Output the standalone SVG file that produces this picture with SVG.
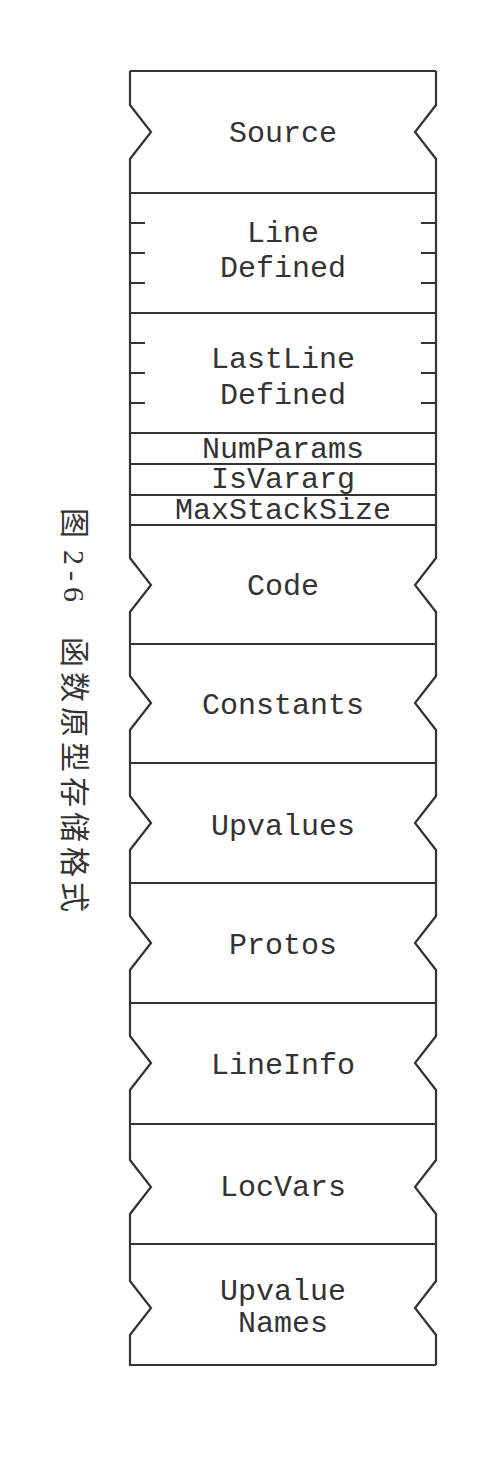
<svg xmlns="http://www.w3.org/2000/svg" width="504" height="1464" viewBox="0 0 504 1464">
<style>
.o{fill:none;stroke:#333;stroke-width:2.2;stroke-linejoin:miter}
.t{font-family:"Liberation Mono","Courier New",monospace;font-size:30px;fill:#333;text-anchor:middle}
.cap{font-family:"Liberation Serif","Noto Sans CJK SC",serif;font-size:30px;fill:#333}
</style>
<rect width="504" height="1464" fill="#fff"/>
<g id="source">
<path class="o" d="M130,71 H436 M130,71 V105 L151,132 L130,159 V193 M436,71 V105 L415,132 L436,159 V193"/>
<text class="t" x="283" y="142">Source</text>
</g>
<g id="line-defined">
<path class="o" d="M130,193 H436 M130,193 V313 M436,193 V313 M130,223 H145 M130,253 H145 M130,283 H145 M436,223 H421 M436,253 H421 M436,283 H421"/>
<text class="t" x="283" y="242">Line</text>
<text class="t" x="283" y="277">Defined</text>
</g>
<g id="lastline-defined">
<path class="o" d="M130,313 H436 M130,313 V433 M436,313 V433 M130,343 H145 M130,373 H145 M130,403 H145 M436,343 H421 M436,373 H421 M436,403 H421"/>
<text class="t" x="283" y="368">LastLine</text>
<text class="t" x="283" y="404">Defined</text>
</g>
<g id="numparams">
<path class="o" d="M130,433 H436 M130,433 V464 M436,433 V464"/>
<text class="t" x="283" y="458">NumParams</text>
</g>
<g id="isvararg">
<path class="o" d="M130,464 H436 M130,464 V495 M436,464 V495"/>
<text class="t" x="283" y="488">IsVararg</text>
</g>
<g id="maxstacksize">
<path class="o" d="M130,495 H436 M130,495 V525 M436,495 V525"/>
<text class="t" x="283" y="519">MaxStackSize</text>
</g>
<g id="code">
<path class="o" d="M130,525 H436 M130,525 V558 L151,585 L130,612 V644 M436,525 V558 L415,585 L436,612 V644"/>
<text class="t" x="283" y="595">Code</text>
</g>
<g id="constants">
<path class="o" d="M130,644 H436 M130,644 V676 L151,703 L130,730 V763 M436,644 V676 L415,703 L436,730 V763"/>
<text class="t" x="283" y="714">Constants</text>
</g>
<g id="upvalues">
<path class="o" d="M130,763 H436 M130,763 V796 L151,823 L130,850 V883 M436,763 V796 L415,823 L436,850 V883"/>
<text class="t" x="283" y="835">Upvalues</text>
</g>
<g id="protos">
<path class="o" d="M130,883 H436 M130,883 V916 L151,943 L130,970 V1003 M436,883 V916 L415,943 L436,970 V1003"/>
<text class="t" x="283" y="954">Protos</text>
</g>
<g id="lineinfo">
<path class="o" d="M130,1003 H436 M130,1003 V1036 L151,1063 L130,1090 V1124 M436,1003 V1036 L415,1063 L436,1090 V1124"/>
<text class="t" x="283" y="1074">LineInfo</text>
</g>
<g id="locvars">
<path class="o" d="M130,1124 H436 M130,1124 V1160 L151,1187 L130,1214 V1244 M436,1124 V1160 L415,1187 L436,1214 V1244"/>
<text class="t" x="283" y="1196">LocVars</text>
</g>
<g id="upvalue-names">
<path class="o" d="M130,1244 H436 M130,1244 V1281 L151,1308 L130,1335 V1365 H436 M436,1244 V1281 L415,1308 L436,1335 V1365"/>
<text class="t" x="283" y="1300">Upvalue</text>
<text class="t" x="283" y="1332">Names</text>
</g>
<g id="caption">
<text class="cap" transform="translate(64,0) rotate(90)"><tspan x="508">图</tspan><tspan x="550" letter-spacing="6">2-6</tspan><tspan x="637" letter-spacing="5">函数原型存储格式</tspan></text>
</g>
</svg>
